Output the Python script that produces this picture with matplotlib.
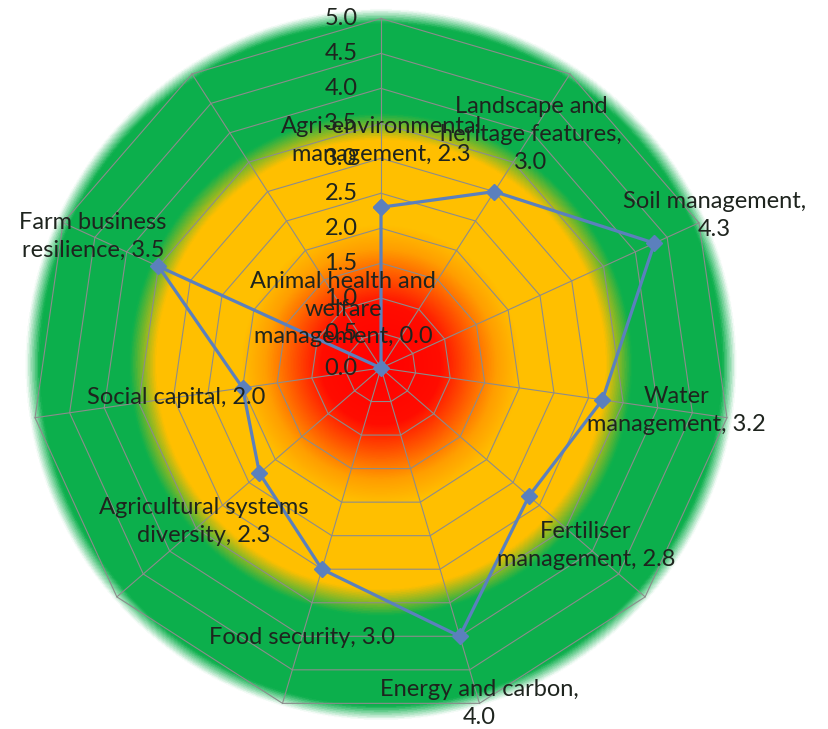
import numpy as np
import matplotlib.pyplot as plt
from matplotlib.colors import LinearSegmentedColormap

plt.rcParams['font.family'] = ['Lato', 'DejaVu Sans']

# data
names = ['Agri-environmental\nmanagement, {:.1f}',
         'Landscape and\nheritage features,\n{:.1f}',
         'Soil management,\n{:.1f}',
         'Water\nmanagement, {:.1f}',
         'Fertiliser\nmanagement, {:.1f}',
         'Energy and carbon,\n{:.1f}',
         'Food security, {:.1f}',
         'Agricultural systems\ndiversity, {:.1f}',
         'Social capital, {:.1f}',
         'Farm business\nresilience, {:.1f}',
         'Animal health and\nwelfare\nmanagement, {:.1f}']
values = [2.3, 3.0, 4.3, 3.2, 2.8, 4.0, 3.0, 2.3, 2.0, 3.5, 0.0]
levels = [0.0, 0.5, 1.0, 1.5, 2.0, 2.5, 3.0, 3.5, 4.0, 4.5, 5.0]

# where the category labels sit along each spoke
label_r = [3.26, 3.97, 5.25, 4.27, 3.88, 5.0, 4.02, 3.35, 2.96, 4.53, 1.0]

n = len(values)
angles = np.arange(n) * 2 * np.pi / n
rmax = 5.15
pos = [0.02533, 0.00137, 0.8685, 0.98765]

fig = plt.figure(figsize=(8.29, 7.29), dpi=100)

# background disc: red -> orange -> yellow -> green, soft edge
bg = fig.add_axes(pos)
bg.set_xlim(-rmax, rmax)
bg.set_ylim(-rmax, rmax)
bg.axis('off')
stops = [(0.0, (1.0, 0.0, 0.0, 1)),
         (0.85, (1.0, 0.05, 0.0, 1)),
         (1.25, (1.0, 0.33, 0.0, 1)),
         (1.65, (1.0, 0.62, 0.0, 1)),
         (2.0, (1.0, 0.75, 0.0, 1)),
         (3.22, (1.0, 0.75, 0.0, 1)),
         (3.6, (0.05, 0.69, 0.3, 1)),
         (4.9, (0.05, 0.69, 0.3, 1)),
         (5.1, (0.05, 0.69, 0.3, 0)),
         (rmax, (0.05, 0.69, 0.3, 0))]
cmap = LinearSegmentedColormap.from_list('bg', [(r / rmax, c) for r, c in stops])
xs = np.linspace(-rmax, rmax, 800)
XX, YY = np.meshgrid(xs, xs)
RR = np.clip(np.hypot(XX, YY - 0.05), 0, rmax)
bg.imshow(RR, cmap=cmap, vmin=0, vmax=rmax, extent=[-rmax, rmax, -rmax, rmax],
          origin='lower', interpolation='bilinear')

ax = fig.add_axes(pos, projection='polar')
ax.set_theta_zero_location('N')
ax.set_theta_direction(-1)
ax.set_ylim(0, rmax)
ax.set_xticks([])
ax.set_yticks([])
ax.grid(False)
ax.spines['polar'].set_visible(False)
ax.patch.set_alpha(0)

# polygon grid
grid_col = '#8c8c8c'
closed = np.append(angles, angles[0])
for lv in levels[1:]:
    ax.plot(closed, [lv] * (n + 1), color=grid_col, lw=0.8, zorder=1)
for a in angles:
    ax.plot([a, a], [0, 5.0], color=grid_col, lw=0.8, zorder=1)

# radial scale labels
for lv in levels:
    ax.annotate(f'{lv:.1f}', xy=(0, lv), xytext=(-17, 0), textcoords='offset points',
                ha='right', va='center', fontsize=17, color='#1e241e', zorder=5)

# data series
vals = values + values[:1]
ax.plot(closed, vals, color='#5b80bd', lw=2.3, marker='D', markersize=8.5, zorder=3)

for a, nm, v, r in zip(angles, names, values, label_r):
    ax.text(a, r, nm.format(v), ha='center', va='center', fontsize=17,
            color='#1e241e', linespacing=1.4, zorder=6)

fig.savefig('out.png', dpi=100)
